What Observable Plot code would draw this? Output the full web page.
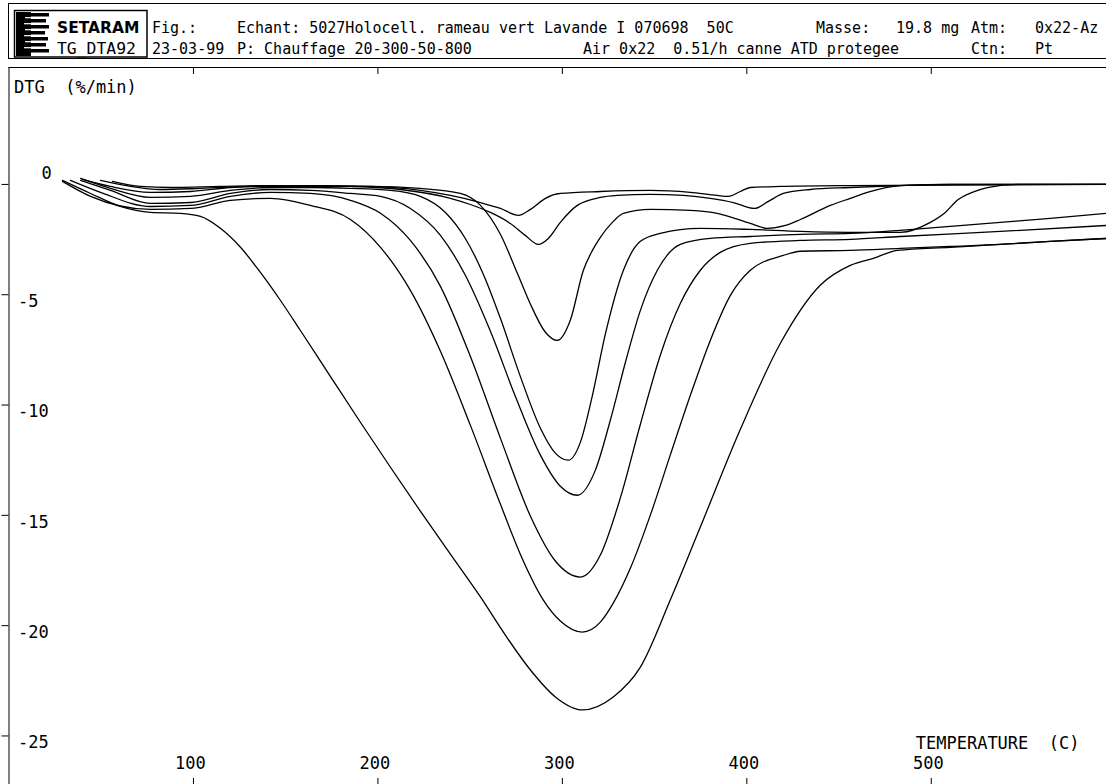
<!DOCTYPE html>
<html>
<head>
<meta charset="utf-8">
<script src="https://cdn.jsdelivr.net/npm/d3@7"></script>
<script src="https://cdn.jsdelivr.net/npm/@observablehq/plot@0.6"></script>
<style>
  html, body { margin: 0; padding: 0; background: #fff; }
  #wrap { width: 1106px; height: 784px; overflow: hidden; position: relative; }
  svg text { white-space: pre; }
  #head text { font-family: "DejaVu Sans Mono", monospace; font-size: 15px; fill: #000; }
</style>
</head>
<body>
<div id="wrap">
<svg id="head" width="1106" height="60" style="display:block">
  <rect x="8.5" y="3.5" width="1110" height="55" fill="none" stroke="#000" stroke-width="1"/>
  <rect x="14.5" y="10.5" width="132.5" height="46.5" fill="none" stroke="#000" stroke-width="1.5"/>
  <rect x="16" y="12" width="15" height="44" fill="#000"/>
  <g fill="#000">
    <rect x="31" y="13" width="18" height="3.5"/>
    <rect x="31" y="19" width="15" height="3.5"/>
    <rect x="31" y="25" width="18" height="3.5"/>
    <rect x="31" y="31" width="14" height="3.5"/>
    <rect x="31" y="37" width="17" height="3.5"/>
    <rect x="31" y="43" width="15" height="3.5"/>
    <rect x="31" y="49" width="18" height="3.5"/>
  </g>
  <g stroke="#fff" stroke-width="1.2">
    <line x1="25" y1="17.7" x2="31" y2="17.7"/>
    <line x1="24" y1="23.7" x2="31" y2="23.7"/>
    <line x1="25" y1="29.7" x2="31" y2="29.7"/>
    <line x1="24" y1="35.7" x2="31" y2="35.7"/>
    <line x1="25" y1="41.7" x2="31" y2="41.7"/>
    <line x1="24" y1="47.7" x2="31" y2="47.7"/>
  </g>
  <text x="57" y="33" style="font-family:'DejaVu Sans',sans-serif;font-weight:bold;font-size:15.5px">SETARAM</text>
  <text x="57" y="54" textLength="79" lengthAdjust="spacingAndGlyphs">TG_DTA92</text>
  <text x="152" y="33">Fig.:</text>
  <text x="152" y="54">23-03-99</text>
  <text x="237" y="33">Echant: 5027Holocell. rameau vert Lavande I 070698  50C</text>
  <text x="237" y="54">P: Chauffage 20-300-50-800</text>
  <text x="816" y="33">Masse:</text>
  <text x="896" y="33">19.8 mg</text>
  <text x="971" y="33">Atm:</text>
  <text x="1035" y="33">0x22-Az</text>
  <text x="583" y="54">Air 0x22  0.51/h canne ATD protegee</text>
  <text x="971" y="54">Ctn:</text>
  <text x="1035" y="54">Pt</text>
</svg>
<div id="chart"></div>
</div>
<script>
// Temperature (C), DTG (%/min)
const curveA = [[56.1,0.14],[71.3,-0.09],[87.5,-0.14],[114.6,-0.09],[141.7,-0.05],[168.8,-0.05],[195.9,-0.09],[223.0,-0.27],[239.3,-0.50],[255.6,-0.82],[266.4,-1.09],[276.2,-1.40],[282.7,-1.13],[290.8,-0.63],[298.9,-0.41],[320.6,-0.32],[347.7,-0.27],[369.4,-0.36],[384.0,-0.50],[390.0,-0.54],[396.5,-0.32],[401.9,-0.14],[418.2,-0.09],[456.1,-0.05],[594.9,0]];
const curveB = [[49.6,0.18],[65.9,-0.09],[82.1,-0.23],[103.8,-0.18],[130.9,-0.09],[158.0,-0.05],[185.1,-0.09],[212.2,-0.23],[239.3,-0.63],[250.1,-0.91],[261.0,-1.27],[271.8,-1.77],[279.9,-2.31],[287.0,-2.72],[292.4,-2.45],[298.9,-1.72],[308.1,-0.95],[320.6,-0.59],[329.8,-0.50],[347.7,-0.45],[365.6,-0.50],[380.2,-0.63],[392.7,-0.82],[404.1,-1.09],[411.7,-0.77],[419.8,-0.41],[434.4,-0.23],[456.1,-0.14],[483.2,-0.05],[510.3,0],[594.9,0]];
const curveC = [[39.8,0.23],[55.0,-0.09],[76.7,-0.36],[98.4,-0.32],[120.1,-0.14],[141.7,-0.09],[168.8,-0.09],[195.9,-0.09],[223.0,-0.18],[244.7,-0.41],[255.6,-0.95],[266.4,-2.26],[275.6,-4.03],[282.7,-5.43],[290.8,-6.70],[297.3,-7.07],[304.3,-6.16],[311.4,-3.89],[316.3,-2.99],[320.6,-2.40],[327.1,-1.72],[333.1,-1.31],[347.7,-1.13],[369.4,-1.18],[384.0,-1.31],[401.9,-1.77],[411.1,-1.99],[420.9,-1.86],[429.0,-1.59],[445.3,-0.95],[456.1,-0.63],[465.3,-0.36],[483.2,-0.05],[510.3,0],[594.9,0]];
const curveD = [[38.8,0.27],[55.0,-0.18],[76.7,-0.59],[98.4,-0.54],[120.1,-0.27],[141.7,-0.14],[163.4,-0.14],[185.1,-0.18],[206.8,-0.27],[223.0,-0.54],[236.6,-1.27],[247.4,-2.45],[257.2,-4.08],[266.4,-6.07],[277.2,-8.70],[288.1,-11.05],[296.2,-12.18],[303.3,-12.50],[309.8,-11.68],[316.3,-9.56],[323.3,-6.79],[333.1,-3.89],[342.3,-2.58],[353.1,-2.22],[374.8,-1.99],[401.9,-2.04],[429.0,-2.13],[456.1,-2.17],[483.2,-2.17],[499.5,-1.72],[507.6,-1.27],[514.1,-0.72],[522.2,-0.36],[530.4,-0.14],[546.6,0],[594.9,0]];
const curveE = [[38.8,0.18],[55.0,-0.27],[76.7,-0.86],[98.4,-0.82],[120.1,-0.41],[141.7,-0.23],[163.4,-0.27],[185.1,-0.41],[201.4,-0.54],[217.6,-1.09],[233.9,-2.31],[247.4,-4.12],[261.0,-6.66],[274.5,-9.60],[288.1,-12.27],[298.9,-13.68],[308.1,-14.09],[317.9,-12.95],[326.0,-10.69],[334.2,-8.06],[342.3,-5.71],[351.5,-3.89],[364.0,-2.72],[380.2,-2.45],[401.9,-2.36],[429.0,-2.26],[456.1,-2.22],[483.2,-2.08],[510.3,-1.90],[537.4,-1.72],[564.5,-1.54],[594.9,-1.31]];
const curveF = [[33.3,0.18],[49.6,-0.36],[76.7,-1.00],[98.4,-0.95],[120.1,-0.54],[141.7,-0.36],[163.4,-0.41],[185.1,-0.72],[201.4,-1.31],[217.6,-2.54],[233.9,-4.62],[250.1,-7.79],[266.4,-11.50],[282.7,-15.04],[296.2,-17.07],[309.8,-17.80],[320.6,-16.80],[331.4,-14.22],[342.3,-10.87],[353.1,-7.74],[364.0,-5.39],[374.8,-3.89],[385.6,-3.08],[401.9,-2.67],[429.0,-2.54],[456.1,-2.49],[483.2,-2.36],[537.4,-2.13],[594.9,-1.86]];
const curveG = [[29.0,0.14],[44.2,-0.54],[76.7,-1.13],[98.4,-1.09],[120.1,-0.72],[141.7,-0.63],[163.4,-0.95],[185.1,-1.59],[201.4,-2.85],[217.6,-4.80],[233.9,-7.56],[250.1,-10.91],[266.4,-14.49],[277.2,-16.76],[289.7,-18.84],[298.9,-19.79],[310.8,-20.29],[320.6,-19.84],[327.6,-18.98],[336.9,-17.39],[347.7,-14.99],[358.5,-12.27],[369.4,-9.56],[380.2,-7.07],[391.1,-5.03],[401.9,-3.89],[419.8,-3.22],[429.0,-3.03],[456.1,-2.99],[483.2,-2.90],[510.3,-2.81],[537.4,-2.72],[564.5,-2.58],[594.9,-2.45]];
const curveH = [[29.0,0.18],[44.2,-0.41],[60.4,-1.00],[76.7,-1.27],[93.0,-1.31],[103.8,-1.45],[114.6,-1.99],[125.5,-2.85],[136.3,-3.99],[147.1,-5.25],[157.9,-6.61],[174.2,-8.70],[190.5,-10.78],[206.8,-12.82],[223.0,-14.81],[239.3,-16.76],[255.6,-18.70],[269.1,-20.43],[282.7,-22.01],[296.2,-23.23],[310.8,-23.82],[327.6,-23.23],[342.3,-21.88],[358.5,-18.84],[374.8,-15.53],[396.5,-11.10],[418.2,-7.20],[439.8,-4.57],[456.1,-3.67],[468.6,-3.35],[481.6,-2.99],[510.3,-2.85],[537.4,-2.72],[564.5,-2.58],[594.9,-2.45]];

const xTicks = [100, 200, 300, 400, 500];
const yTicks = [0, -5, -10, -15, -20, -25];
const yTitle = "DTG  (%/min)";
const xTitle = "TEMPERATURE  (C)";

const xDomain = [0, 595];
const yDomain = [-27.2, 5.3];

const curves = {A: curveA, B: curveB, C: curveC, D: curveD, E: curveE, F: curveF, G: curveG, H: curveH};
const rows = Object.entries(curves).flatMap(([k, pts]) => pts.map(([t, v]) => ({series: k, t, v})));

const W = 1106, H = 724, mT = 7, mB = 0, mL = 8.5, mR = 0;
const frameH = H - mT - mB, frameW = W - mL - mR;
const font = "DejaVu Sans Mono";

const chart = Plot.plot({
  width: W, height: H,
  marginTop: mT, marginBottom: mB, marginLeft: mL, marginRight: mR,
  x: {domain: xDomain, axis: null},
  y: {domain: yDomain, axis: null},
  style: {background: "white", color: "black", fontFamily: font, overflow: "visible"},
  marks: [
    Plot.ruleX([xDomain[0]], {stroke: "black", strokeWidth: 1}),
    Plot.ruleY([yDomain[1]], {stroke: "black", strokeWidth: 1}),
    Plot.tickY(yTicks, {y: d => d, dx: -7, insetRight: frameW - 7, stroke: "black"}),
    Plot.tickX(xTicks, {x: d => d, insetBottom: frameH - 7, stroke: "black"}),
    Plot.tickX(xTicks, {x: d => d, insetTop: frameH - 6, stroke: "black"}),
    Plot.line(rows, {x: "t", y: "v", z: "series", stroke: "black", strokeWidth: 1.3, curve: "monotone-x"}),
    Plot.text(yTicks.filter(d => d !== 0), {y: d => d, text: d => String(d), frameAnchor: "left", dx: 9, dy: 7, textAnchor: "start", fontSize: 17, fontFamily: font}),
    Plot.text(yTicks.filter(d => d === 0), {y: d => d, text: d => String(d), frameAnchor: "left", dx: 37.5, dy: -11, textAnchor: "middle", fontSize: 17, fontFamily: font}),
    Plot.text(xTicks, {x: d => d, text: d => String(d), frameAnchor: "bottom", dx: -3, dy: -15.5, textAnchor: "middle", fontSize: 17, fontFamily: font}),
    Plot.text([xTitle], {text: d => d, frameAnchor: "bottom-right", dx: -27, dy: -35.5, textAnchor: "end", fontSize: 17, fontFamily: font}),
    Plot.text([yTitle], {text: d => d, frameAnchor: "top-left", dx: 5, dy: 13, textAnchor: "start", fontSize: 17, fontFamily: font})
  ]
});
chart.style.display = "block";
document.getElementById("chart").appendChild(chart);
</script>
</body>
</html>
